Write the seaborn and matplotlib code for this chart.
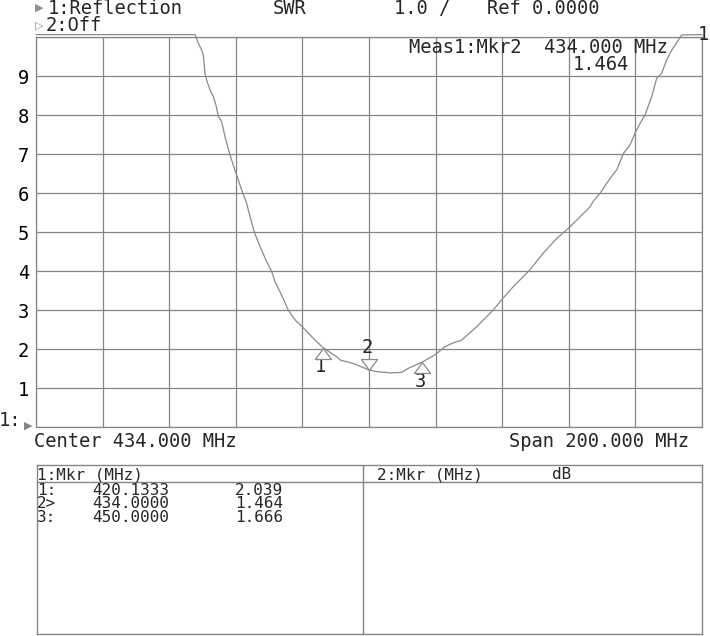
import matplotlib
matplotlib.use("Agg")
import matplotlib.pyplot as plt
import numpy as np
import pandas as pd
import seaborn as sns

# Trace (frequency in MHz, SWR); values at 10.07 are the clipped top
freq_mhz = [334.0, 381.75, 382.26, 382.74, 383.76, 384.24, 384.45, 384.75, 385.26, 386.25,
            387.24, 388.05, 388.74, 389.77, 390.76, 392.26, 393.76, 394.75, 395.77, 397.27,
            397.75, 399.56, 401.27, 403.28, 404.78, 405.77, 407.27, 409.77, 411.78, 413.97,
            416.79, 420.13, 424.30, 425.30, 429.29, 434.00, 436.30, 440.30, 443.80, 446.30,
            447.30, 450.00, 453.80, 456.80, 459.00, 461.80, 466.30, 471.30, 473.80, 477.30,
            482.30, 486.30, 490.40, 493.90, 496.40, 497.90, 500.40, 501.40, 503.40, 506.40,
            508.40, 510.40, 512.40, 513.90, 515.40, 516.90, 518.90, 520.40, 521.90, 523.40,
            524.90, 526.90, 527.90, 534.0]
swr = [10.07, 10.07, 9.97, 9.85, 9.67, 9.55, 9.33, 9.08, 8.90, 8.65,
       8.48, 8.26, 7.98, 7.83, 7.45, 6.98, 6.59, 6.34, 6.08, 5.74,
       5.57, 5.00, 4.63, 4.24, 3.99, 3.73, 3.47, 3.00, 2.75, 2.57,
       2.32, 2.039, 1.80, 1.72, 1.63, 1.464, 1.42, 1.39, 1.40, 1.53,
       1.56, 1.666, 1.85, 2.06, 2.15, 2.23, 2.57, 3.00, 3.26, 3.60,
       4.03, 4.46, 4.84, 5.10, 5.31, 5.44, 5.65, 5.80, 6.00, 6.38,
       6.60, 7.02, 7.24, 7.54, 7.79, 8.01, 8.48, 8.95, 9.08, 9.42,
       9.67, 9.93, 10.06, 10.07]

# markers
mkr_id = ["1", "2", "3"]
mkr_freq = [420.1333, 434.0000, 450.0000]
mkr_swr = [2.039, 1.464, 1.666]
active_mkr = 1

center_mhz = 434.0
span_mhz = 200.0
ytick_labels = ["", "1", "2", "3", "4", "5", "6", "7", "8", "9", ""]

df = pd.DataFrame({"freq": freq_mhz, "swr": swr})

sns.set_theme(style="white")
FONT = ["DejaVu Sans Mono", "DejaVu Sans"]
plt.rcParams["font.family"] = FONT
FS = 13.5
FS_TAB = 11.5
GRID = "#858585"
TRACE = "#8a8a8a"

W, H = 710, 636
fig = plt.figure(figsize=(W / 100, H / 100), dpi=100)
fig.patch.set_facecolor("white")


def fx(x):
    return x / W


def fy(y):
    return 1 - y / H


# ---- main trace window
ax = fig.add_axes([fx(36), fy(427), (702 - 36) / W, (427 - 37.3) / H])
sns.lineplot(data=df, x="freq", y="swr", ax=ax, color=TRACE, lw=0.9,
             estimator=None, clip_on=False, legend=False)
ax.set_xlim(center_mhz - span_mhz / 2, center_mhz + span_mhz / 2)
ax.set_ylim(0, 10)
ax.set_xticks(np.arange(center_mhz - span_mhz / 2, center_mhz + span_mhz / 2 + 1, span_mhz / 10))
ax.set_xticklabels([])
ax.set_yticks(range(11))
ax.set_yticklabels(ytick_labels)
ax.tick_params(length=0, pad=5, labelsize=FS, colors="black")
ax.grid(True, color=GRID, lw=0.9)
for s in ax.spines.values():
    s.set_color(GRID)
    s.set_linewidth(0.9)
ax.set_xlabel("")
ax.set_ylabel("")

# marker triangles, apex on the trace
up = [(0, 0), (0.73, -1), (-0.73, -1), (0, 0)]
down = [(0, 0), (0.73, 1), (-0.73, 1), (0, 0)]
for i, (m, f, v) in enumerate(zip(mkr_id, mkr_freq, mkr_swr)):
    is_act = i == active_mkr
    ax.plot([f], [v], marker=down if is_act else up, ms=15.8, mfc="white",
            mec=TRACE, mew=0.9, ls="none", zorder=5)
    off = (-1.2, 16) if is_act else (-1.5, -13.7)
    ax.annotate(m, (f, v), xytext=off, textcoords="offset points",
                ha="center", va="center", fontsize=FS)

# trace end label
fig.text(fx(709.5), fy(34.5), "1", fontsize=FS, ha="right", va="center")

# reference level marker
ax.annotate("\u25b6", (0, 0), xycoords="axes fraction", xytext=(-5.8, 1),
            textcoords="offset points", ha="center", va="center",
            fontsize=8, color=GRID, family="DejaVu Sans", annotation_clip=False)
fig.text(fx(-1), fy(426), "1:", fontsize=FS, va="baseline")

# ---- header
fig.text(fx(35), fy(8), "\u25b6", fontsize=8, color="#909090", va="center", family="DejaVu Sans")
fig.text(fx(48), fy(13.5), "1:Reflection", fontsize=FS, va="baseline")
fig.text(fx(273), fy(13.5), "SWR", fontsize=FS, va="baseline")
fig.text(fx(394), fy(13.5), "1.0 /", fontsize=FS, va="baseline")
fig.text(fx(487), fy(13.5), "Ref 0.0000", fontsize=FS, va="baseline")
fig.text(fx(35), fy(25.5), "\u25b7", fontsize=8, color="#909090", va="center", family="DejaVu Sans")
fig.text(fx(46), fy(30.7), "2:Off", fontsize=FS, va="baseline")

fig.text(fx(409), fy(52.7), "Meas1:Mkr2  %.3f MHz" % mkr_freq[active_mkr], fontsize=FS, va="baseline")
fig.text(fx(629), fy(70), "%.3f" % mkr_swr[active_mkr], fontsize=FS, va="baseline", ha="right")

fig.text(fx(34), fy(447), "Center %.3f MHz" % center_mhz, fontsize=FS, va="baseline")
fig.text(fx(689), fy(447), "Span %.3f MHz" % span_mhz, fontsize=FS, va="baseline", ha="right")

# ---- marker table
tb = fig.add_axes([fx(36.5), fy(634), (702 - 36.5) / W, (634 - 465) / H])
tb.set_xlim(36.5, 702)
tb.set_ylim(634, 465)
tb.set_xticks([])
tb.set_yticks([])
tb.grid(False)
for s in tb.spines.values():
    s.set_color(GRID)
    s.set_linewidth(1.0)
tb.axvline(363, color=GRID, lw=1.0)
tb.axhline(482, color=GRID, lw=1.0)

fig.text(fx(37), fy(479), "1:Mkr (MHz)", fontsize=FS_TAB, va="baseline")
fig.text(fx(377), fy(479), "2:Mkr (MHz)", fontsize=FS_TAB, va="baseline")
fig.text(fx(552), fy(479), "dB", fontsize=FS_TAB, va="baseline")

# one text per column, rows as lines (baseline = last row)
tags = "\n".join(m + (">" if i == active_mkr else ":") for i, m in enumerate(mkr_id))
freqs = "\n".join("%.4f" % f for f in mkr_freq)
vals = "\n".join("%.3f" % v for v in mkr_swr)
LS = 0.86
last_row = 521.7
fig.text(fx(37), fy(last_row), tags, fontsize=FS_TAB, va="baseline", linespacing=LS)
fig.text(fx(131), fy(last_row), freqs, fontsize=FS_TAB, va="baseline", ha="center",
         multialignment="left", linespacing=LS)
fig.text(fx(283), fy(last_row), vals, fontsize=FS_TAB, va="baseline", ha="right",
         multialignment="right", linespacing=LS)

fig.savefig("out.png", dpi=100, facecolor="white")
